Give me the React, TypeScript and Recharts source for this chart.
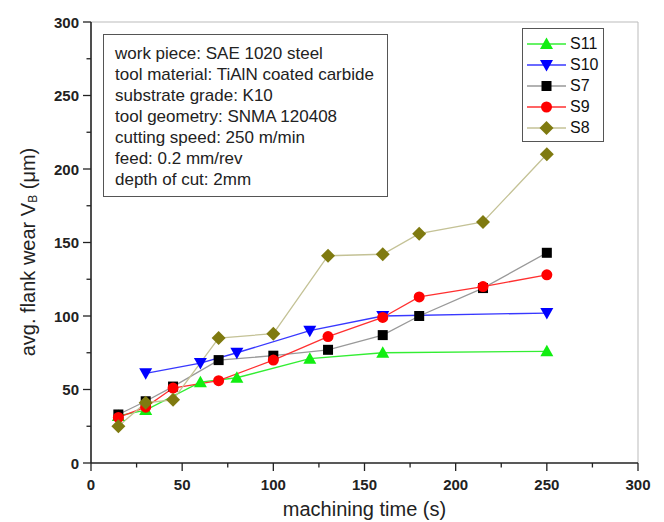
import React from "react";
import { LineChart, Line, XAxis, YAxis, ReferenceLine, Legend } from "recharts";

type Pt = { x: number; y: number };

const xTicks = [0, 25, 50, 75, 100, 125, 150, 175, 200, 225, 250, 275, 300];
const yTicks = [0, 25, 50, 75, 100, 125, 150, 175, 200, 225, 250, 275, 300];

const s11: Pt[] = [
  { x: 15, y: 32 }, { x: 30, y: 36 }, { x: 60, y: 55 }, { x: 80, y: 58 },
  { x: 120, y: 71 }, { x: 160, y: 75 }, { x: 250, y: 76 },
];
const s10: Pt[] = [
  { x: 30, y: 61 }, { x: 60, y: 68 }, { x: 80, y: 75 }, { x: 120, y: 90 },
  { x: 160, y: 100 }, { x: 250, y: 102 },
];
const s7: Pt[] = [
  { x: 15, y: 33 }, { x: 30, y: 42 }, { x: 45, y: 52 }, { x: 70, y: 70 },
  { x: 100, y: 73 }, { x: 130, y: 77 }, { x: 160, y: 87 }, { x: 180, y: 100 },
  { x: 215, y: 119 }, { x: 250, y: 143 },
];
const s9: Pt[] = [
  { x: 15, y: 31 }, { x: 30, y: 38 }, { x: 45, y: 51 }, { x: 70, y: 56 },
  { x: 100, y: 70 }, { x: 130, y: 86 }, { x: 160, y: 99 }, { x: 180, y: 113 },
  { x: 215, y: 120 }, { x: 250, y: 128 },
];
const s8: Pt[] = [
  { x: 15, y: 25 }, { x: 30, y: 41 }, { x: 45, y: 43 }, { x: 70, y: 85 },
  { x: 100, y: 88 }, { x: 130, y: 141 }, { x: 160, y: 142 }, { x: 180, y: 156 },
  { x: 215, y: 164 }, { x: 250, y: 210 },
];

const infoLines = [
  "work piece: SAE 1020 steel",
  "tool material: TiAlN coated carbide",
  "substrate grade: K10",
  "tool geometry: SNMA 120408",
  "cutting speed: 250 m/min",
  "feed: 0.2 mm/rev",
  "depth of cut: 2mm",
];

type Shape = "up" | "down" | "square" | "circle" | "diamond";

const FONT = "'Liberation Sans', Arial, Helvetica, sans-serif";

function marker(shape: Shape, cx: number, cy: number, fill: string, key?: any) {
  switch (shape) {
    case "up":
      return <polygon key={key} points={`${cx},${cy - 6.5} ${cx + 6.5},${cy + 5} ${cx - 6.5},${cy + 5}`} fill={fill} />;
    case "down":
      return <polygon key={key} points={`${cx},${cy + 6.5} ${cx + 6.5},${cy - 5} ${cx - 6.5},${cy - 5}`} fill={fill} />;
    case "square":
      return <rect key={key} x={cx - 5} y={cy - 5} width={10} height={10} fill={fill} />;
    case "circle":
      return <circle key={key} cx={cx} cy={cy} r={5.5} fill={fill} />;
    case "diamond":
      return <polygon key={key} points={`${cx},${cy - 7} ${cx + 7},${cy} ${cx},${cy + 7} ${cx - 7},${cy}`} fill={fill} />;
  }
}

const makeDot = (shape: Shape, fill: string) => (props: any) => {
  const { cx, cy, index } = props;
  if (cx == null || cy == null) return <g key={index} />;
  return marker(shape, cx, cy, fill, index) as any;
};

const series = [
  { name: "S11", data: s11, line: "#33ee33", fill: "#11ee11", shape: "up" as Shape },
  { name: "S10", data: s10, line: "#3838ff", fill: "#0000ff", shape: "down" as Shape },
  { name: "S7", data: s7, line: "#999999", fill: "#000000", shape: "square" as Shape },
  { name: "S9", data: s9, line: "#ff3030", fill: "#ff0000", shape: "circle" as Shape },
  { name: "S8", data: s8, line: "#c4c296", fill: "#7f7a10", shape: "diamond" as Shape },
];

const YTick = (props: any) => {
  const { x, y, payload } = props;
  const v = payload.value;
  const major = v % 50 === 0;
  return (
    <g>
      <line x1={x - (major ? 8 : 4.5)} x2={x} y1={y} y2={y} stroke="#222" strokeWidth={1.3} />
      {major && (
        <text x={x - 12} y={y} textAnchor="end" dominantBaseline="central" fontWeight="bold" fontSize={15} fill="#222" fontFamily={FONT}>
          {v}
        </text>
      )}
    </g>
  );
};

const XTick = (props: any) => {
  const { x, y, payload } = props;
  const v = payload.value;
  const major = v % 50 === 0;
  return (
    <g>
      <line x1={x} x2={x} y1={y} y2={y + (major ? 8 : 4.5)} stroke="#222" strokeWidth={1.3} />
      {major && (
        <text x={x} y={y + 21} textAnchor="middle" dominantBaseline="central" fontWeight="bold" fontSize={15} fill="#222" fontFamily={FONT}>
          {v}
        </text>
      )}
    </g>
  );
};

const LegendContent = () => (
  <div
    style={{
      border: "1.5px solid #555",
      background: "#fff",
      width: 82,
      boxSizing: "border-box",
      padding: "4px 0 3px 3px",
      fontFamily: FONT,
      fontSize: 16,
      color: "#111",
    }}
  >
    {series.map((s) => (
      <div key={s.name} style={{ display: "flex", alignItems: "center", height: 21 }}>
        <svg width={42} height={20} style={{ display: "block" }}>
          <line x1={1} x2={40} y1={10} y2={10} stroke={s.line} strokeWidth={1.3} />
          {marker(s.shape, 20.5, 10, s.fill)}
        </svg>
        <span style={{ marginLeft: 2 }}>{s.name}</span>
      </div>
    ))}
  </div>
);

const YLabel = (props: any) => {
  return (
    <text
      transform="translate(28,252) rotate(-90)"
      textAnchor="middle"
      dominantBaseline="central"
      fontSize={20}
      fill="#222"
      fontFamily={FONT}
    >
      avg. flank wear V
      <tspan fontSize={12} dy={5}>B</tspan>
      <tspan dy={-5}> (μm)</tspan>
    </text>
  );
};

const XLabel = (props: any) => {
  const vb = props.viewBox || {};
  const cx = (vb.x ?? 0) + (vb.width ?? 0) / 2;
  return (
    <text x={cx} y={509} textAnchor="middle" dominantBaseline="central" fontSize={20} fill="#222" fontFamily={FONT}>
      machining time (s)
    </text>
  );
};

export default function App() {
  return (
    <div style={{ position: "absolute", left: 0, top: 0, width: 664, height: 522, background: "#fff", fontFamily: FONT }}>
      <LineChart width={664} height={522} margin={{ top: 22, right: 26, bottom: 0, left: 0 }}>
        <XAxis
          dataKey="x"
          type="number"
          domain={[0, 300]}
          ticks={xTicks}
          interval={0}
          height={59}
          tickSize={0}
          tickMargin={0}
          tickLine={false}
          tick={<XTick />}
          axisLine={{ stroke: "#222", strokeWidth: 1.6 }}
          allowDuplicatedCategory={false}
          label={{ content: <XLabel /> } as any}
        />
        <YAxis
          dataKey="y"
          type="number"
          domain={[0, 300]}
          ticks={yTicks}
          interval={0}
          width={91}
          tickSize={0}
          tickMargin={0}
          tickLine={false}
          tick={<YTick />}
          axisLine={{ stroke: "#222", strokeWidth: 1.6 }}
          label={{ content: <YLabel /> } as any}
        />
        <ReferenceLine y={300} stroke="#bbbbbb" strokeWidth={1} />
        <ReferenceLine x={300} stroke="#bbbbbb" strokeWidth={1} />
        {series.map((s) => (
          <Line
            key={s.name}
            data={s.data}
            dataKey="y"
            name={s.name}
            stroke={s.line}
            strokeWidth={1.3}
            dot={makeDot(s.shape, s.fill)}
            activeDot={false}
            isAnimationActive={false}
          />
        ))}
        <Legend
          layout="vertical"
          align="center"
          verticalAlign="middle"
          content={<LegendContent />}
          wrapperStyle={{ position: "absolute", left: 522, top: 28, width: 82, height: "auto" }}
        />
      </LineChart>
      <div
        style={{
          position: "absolute",
          left: 103,
          top: 34,
          width: 285,
          height: 163,
          boxSizing: "border-box",
          border: "1.5px solid #555",
          background: "#fff",
          padding: "8px 0 0 11px",
          fontFamily: FONT,
          fontSize: 17,
          lineHeight: "21px",
          color: "#222",
          whiteSpace: "nowrap",
        }}
      >
        {infoLines.map((t) => (
          <div key={t}>{t}</div>
        ))}
      </div>
    </div>
  );
}
